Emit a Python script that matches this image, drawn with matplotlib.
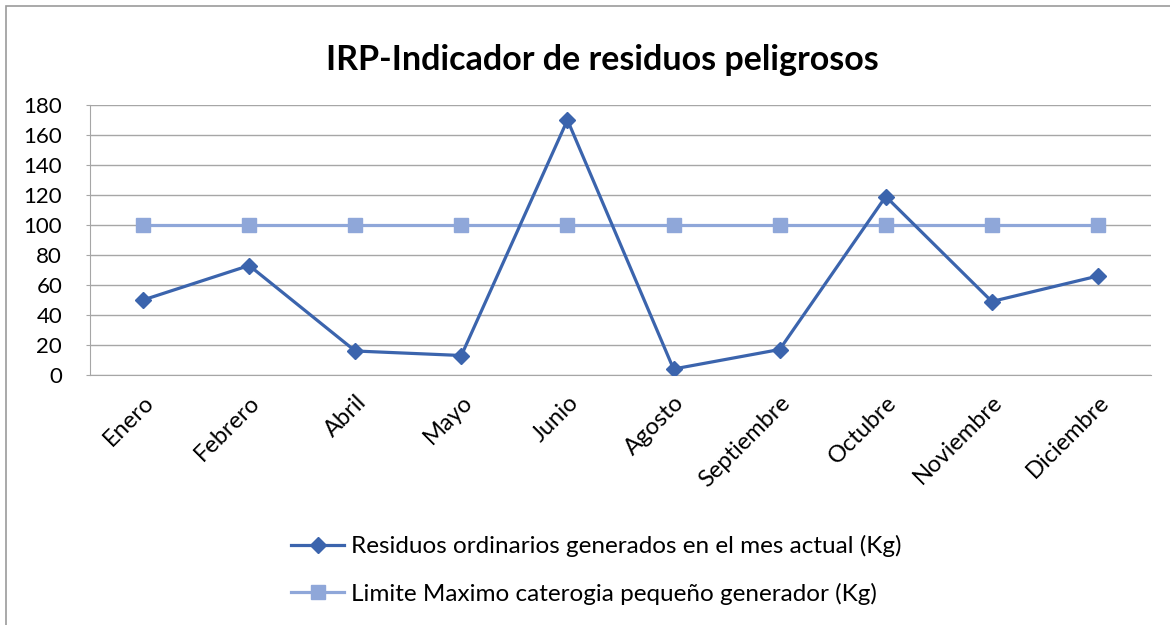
import matplotlib.pyplot as plt
from matplotlib.lines import Line2D
from matplotlib.patches import Rectangle

months = ["Enero", "Febrero", "Abril", "Mayo", "Junio", "Agosto",
          "Septiembre", "Octubre", "Noviembre", "Diciembre"]
residuos = [50, 73, 16, 13, 170, 4, 17, 119, 49, 66]
limite = [100, 100, 100, 100, 100, 100, 100, 100, 100, 100]
yticks = [0, 20, 40, 60, 80, 100, 120, 140, 160, 180]

label1 = "Residuos ordinarios generados en el mes actual (Kg)"
label2 = "Limite Maximo caterogia pequeño generador (Kg)"
title = "IRP-Indicador de residuos peligrosos"

plt.rcParams['font.family'] = ['Lato', 'DejaVu Sans']

W, H = 1170, 625
fig = plt.figure(figsize=(W / 100, H / 100), dpi=100)

# outer chart border
fig.patches.append(Rectangle((6 / W, -0.01), 1.2, 1 - 6 / H + 0.01,
                             transform=fig.transFigure, fill=False,
                             edgecolor="#9b9b9b", linewidth=1.2))

ax = fig.add_axes([90 / W, 1 - 375 / H, (1151 - 90) / W, (375 - 105) / H])

x = list(range(len(months)))
c1 = "#3b64ad"
c2 = "#8fa7d9"
ax.plot(x, limite, color=c2, linewidth=2.3, marker="s", markersize=10.5,
        label=label2, zorder=3)
ax.plot(x, residuos, color=c1, linewidth=2.3, marker="D", markersize=8.5,
        label=label1, zorder=4)

ax.set_xlim(-0.5, len(months) - 0.5)
ax.set_ylim(0, 180)
ax.set_yticks(yticks)
ax.set_xticks(x)
ax.set_xticklabels(months, rotation=45, ha="right", rotation_mode="anchor",
                   fontsize=17)
ax.tick_params(axis="y", labelsize=16, length=3, color="#a6a6a6", pad=17)
ax.tick_params(axis="x", length=0, pad=12)

ax.grid(axis="y", color="#a6a6a6", linewidth=1)
ax.set_axisbelow(True)
for s in ["top", "right"]:
    ax.spines[s].set_visible(False)
ax.spines["left"].set_color("#a6a6a6")
ax.spines["bottom"].set_color("#a6a6a6")

fig.text(602 / W, 1 - 60 / H, title, ha="center", va="center",
         fontsize=24.5, fontweight="bold")

handles = [Line2D([], [], color=c1, linewidth=2.3, marker="D", markersize=8.5),
           Line2D([], [], color=c2, linewidth=2.3, marker="s", markersize=10.5)]
fig.legend(handles, [label1, label2], loc="center",
           bbox_to_anchor=(596 / W, 1 - 570 / H), frameon=False,
           fontsize=17.5, labelspacing=1.05, handlelength=2.2, handletextpad=0.25)

fig.savefig("out.png", dpi=100)
